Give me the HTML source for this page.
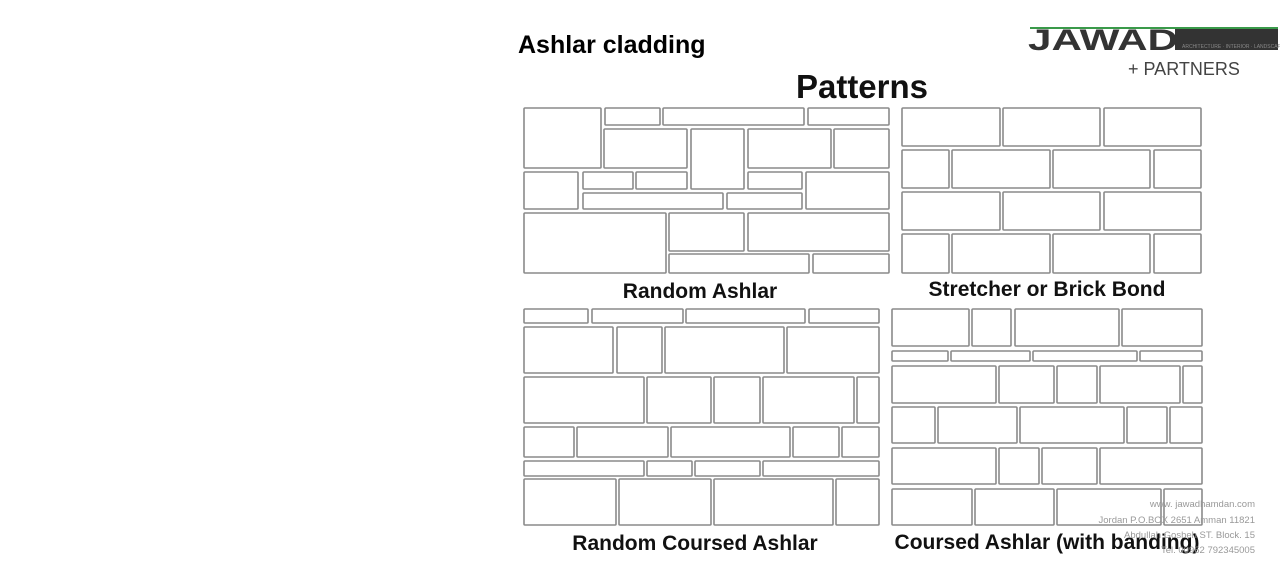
<!DOCTYPE html>
<html><head><meta charset="utf-8"><style>
html,body{margin:0;padding:0;background:#fff;width:1280px;height:580px;overflow:hidden}
svg{display:block}
</style></head><body>
<svg width="1280" height="580" xmlns="http://www.w3.org/2000/svg">
<rect width="1280" height="580" fill="#fff"/>
<text x="518" y="53" font-family="Liberation Sans, sans-serif" font-weight="bold" font-size="25" fill="#000">Ashlar cladding</text>
<text x="862" y="98" text-anchor="middle" font-family="Liberation Sans, sans-serif" font-weight="bold" font-size="33" fill="#111">Patterns</text>
<!-- logo -->
<rect x="1030" y="27" width="248" height="2" fill="#3a9a4a"/>
<rect x="1175" y="29" width="103" height="21" fill="#333"/>
<text x="1028" y="50" font-family="Liberation Sans, sans-serif" font-weight="bold" font-size="30" fill="#333" textLength="150" lengthAdjust="spacingAndGlyphs">JAWAD</text>
<text x="1182" y="48" font-family="Liberation Sans, sans-serif" font-size="5" fill="#888">ARCHITECTURE · INTERIOR · LANDSCAPE</text>
<text x="1128" y="75" font-family="Liberation Sans, sans-serif" font-size="18" fill="#444">+ PARTNERS</text>
<g fill="#fff" stroke="#8a8a8a" stroke-width="1.6">
<rect x="524" y="108" width="77" height="60" rx="1"/>
<rect x="605" y="108" width="55" height="17" rx="1"/>
<rect x="663" y="108" width="141" height="17" rx="1"/>
<rect x="808" y="108" width="81" height="17" rx="1"/>
<rect x="604" y="129" width="83" height="39" rx="1"/>
<rect x="691" y="129" width="53" height="60" rx="1"/>
<rect x="748" y="129" width="83" height="39" rx="1"/>
<rect x="834" y="129" width="55" height="39" rx="1"/>
<rect x="524" y="172" width="54" height="37" rx="1"/>
<rect x="583" y="172" width="50" height="17" rx="1"/>
<rect x="636" y="172" width="51" height="17" rx="1"/>
<rect x="748" y="172" width="54" height="17" rx="1"/>
<rect x="806" y="172" width="83" height="37" rx="1"/>
<rect x="583" y="193" width="140" height="16" rx="1"/>
<rect x="727" y="193" width="75" height="16" rx="1"/>
<rect x="524" y="213" width="142" height="60" rx="1"/>
<rect x="669" y="213" width="75" height="38" rx="1"/>
<rect x="748" y="213" width="141" height="38" rx="1"/>
<rect x="669" y="254" width="140" height="19" rx="1"/>
<rect x="813" y="254" width="76" height="19" rx="1"/>
<rect x="902" y="108" width="98" height="38" rx="1"/>
<rect x="1003" y="108" width="97" height="38" rx="1"/>
<rect x="1104" y="108" width="97" height="38" rx="1"/>
<rect x="902" y="150" width="47" height="38" rx="1"/>
<rect x="952" y="150" width="98" height="38" rx="1"/>
<rect x="1053" y="150" width="97" height="38" rx="1"/>
<rect x="1154" y="150" width="47" height="38" rx="1"/>
<rect x="902" y="192" width="98" height="38" rx="1"/>
<rect x="1003" y="192" width="97" height="38" rx="1"/>
<rect x="1104" y="192" width="97" height="38" rx="1"/>
<rect x="902" y="234" width="47" height="39" rx="1"/>
<rect x="952" y="234" width="98" height="39" rx="1"/>
<rect x="1053" y="234" width="97" height="39" rx="1"/>
<rect x="1154" y="234" width="47" height="39" rx="1"/>
<rect x="524" y="309" width="64" height="14" rx="1"/>
<rect x="592" y="309" width="91" height="14" rx="1"/>
<rect x="686" y="309" width="119" height="14" rx="1"/>
<rect x="809" y="309" width="70" height="14" rx="1"/>
<rect x="524" y="327" width="89" height="46" rx="1"/>
<rect x="617" y="327" width="45" height="46" rx="1"/>
<rect x="665" y="327" width="119" height="46" rx="1"/>
<rect x="787" y="327" width="92" height="46" rx="1"/>
<rect x="524" y="377" width="120" height="46" rx="1"/>
<rect x="647" y="377" width="64" height="46" rx="1"/>
<rect x="714" y="377" width="46" height="46" rx="1"/>
<rect x="763" y="377" width="91" height="46" rx="1"/>
<rect x="857" y="377" width="22" height="46" rx="1"/>
<rect x="524" y="427" width="50" height="30" rx="1"/>
<rect x="577" y="427" width="91" height="30" rx="1"/>
<rect x="671" y="427" width="119" height="30" rx="1"/>
<rect x="793" y="427" width="46" height="30" rx="1"/>
<rect x="842" y="427" width="37" height="30" rx="1"/>
<rect x="524" y="461" width="120" height="15" rx="1"/>
<rect x="647" y="461" width="45" height="15" rx="1"/>
<rect x="695" y="461" width="65" height="15" rx="1"/>
<rect x="763" y="461" width="116" height="15" rx="1"/>
<rect x="524" y="479" width="92" height="46" rx="1"/>
<rect x="619" y="479" width="92" height="46" rx="1"/>
<rect x="714" y="479" width="119" height="46" rx="1"/>
<rect x="836" y="479" width="43" height="46" rx="1"/>
<rect x="892" y="309" width="77" height="37" rx="1"/>
<rect x="972" y="309" width="39" height="37" rx="1"/>
<rect x="1015" y="309" width="104" height="37" rx="1"/>
<rect x="1122" y="309" width="80" height="37" rx="1"/>
<rect x="892" y="351" width="56" height="10" rx="1"/>
<rect x="951" y="351" width="79" height="10" rx="1"/>
<rect x="1033" y="351" width="104" height="10" rx="1"/>
<rect x="1140" y="351" width="62" height="10" rx="1"/>
<rect x="892" y="366" width="104" height="37" rx="1"/>
<rect x="999" y="366" width="55" height="37" rx="1"/>
<rect x="1057" y="366" width="40" height="37" rx="1"/>
<rect x="1100" y="366" width="80" height="37" rx="1"/>
<rect x="1183" y="366" width="19" height="37" rx="1"/>
<rect x="892" y="407" width="43" height="36" rx="1"/>
<rect x="938" y="407" width="79" height="36" rx="1"/>
<rect x="1020" y="407" width="104" height="36" rx="1"/>
<rect x="1127" y="407" width="40" height="36" rx="1"/>
<rect x="1170" y="407" width="32" height="36" rx="1"/>
<rect x="892" y="448" width="104" height="36" rx="1"/>
<rect x="999" y="448" width="40" height="36" rx="1"/>
<rect x="1042" y="448" width="55" height="36" rx="1"/>
<rect x="1100" y="448" width="102" height="36" rx="1"/>
<rect x="892" y="489" width="80" height="36" rx="1"/>
<rect x="975" y="489" width="79" height="36" rx="1"/>
<rect x="1057" y="489" width="104" height="36" rx="1"/>
<rect x="1164" y="489" width="38" height="36" rx="1"/>
</g>
<g font-family="Liberation Sans, sans-serif" font-weight="bold" font-size="21" fill="#111" text-anchor="middle">
<text x="700" y="298">Random Ashlar</text>
<text x="1047" y="296">Stretcher or Brick Bond</text>
<text x="695" y="550">Random Coursed Ashlar</text>
<text x="1047" y="549">Coursed Ashlar (with banding)</text>
</g>
<g font-family="Liberation Sans, sans-serif" font-size="9.5" fill="#999" text-anchor="end">
<text x="1255" y="507">www. jawadhamdan.com</text>
<text x="1255" y="523">Jordan P.O.BOX 2651 Amman 11821</text>
<text x="1255" y="538">Abdullah Gosheh ST. Block. 15</text>
<text x="1255" y="553">Tel. 00962 792345005</text>
</g>
</svg>
</body></html>
